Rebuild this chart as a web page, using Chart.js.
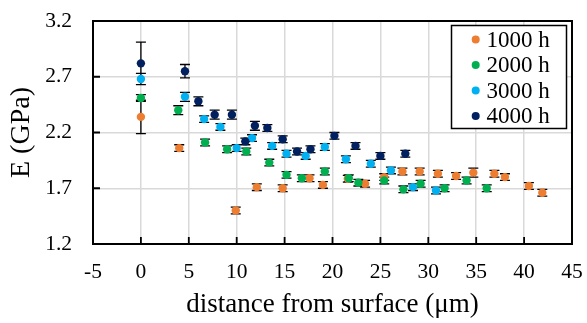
<!DOCTYPE html>
<html><head><meta charset="utf-8">
<script src="https://cdn.jsdelivr.net/npm/chart.js@4.4.1/dist/chart.umd.min.js"></script>
<style>
html,body{margin:0;padding:0;background:#fff;}
#wrap{position:relative;width:587px;height:323px;}
</style>
</head><body>
<div id="wrap"><canvas id="c" width="587" height="323"></canvas></div>
<script>
const seriesNames = ['1000 h','2000 h','3000 h','4000 h'];
const seriesColors = ['#ED7D31','#00B050','#00B0F0','#002060'];

const x1000 = [0, 4.0, 9.9, 12.1, 14.8, 17.6, 19.0, 21.6, 23.4, 25.4, 27.3, 29.1, 31.0, 32.9, 34.7, 36.9, 38.0, 40.5, 41.9];
const y1000 = [2.34, 2.06, 1.50, 1.71, 1.70, 1.79, 1.73, 1.785, 1.74, 1.80, 1.85, 1.85, 1.83, 1.81, 1.84, 1.83, 1.80, 1.72, 1.66];
const e1000 = [0.15, 0.03, 0.03, 0.03, 0.03, 0.03, 0.03, 0.03, 0.03, 0.03, 0.03, 0.03, 0.03, 0.03, 0.04, 0.03, 0.03, 0.03, 0.03];

const x2000 = [0, 3.9, 6.7, 9.0, 11.0, 13.4, 15.2, 16.8, 19.2, 21.7, 22.7, 25.4, 27.4, 29.2, 31.7, 34.0, 36.1];
const y2000 = [2.51, 2.40, 2.11, 2.05, 2.03, 1.93, 1.82, 1.79, 1.85, 1.79, 1.75, 1.77, 1.69, 1.74, 1.70, 1.77, 1.70];
const e2000 = [0.03, 0.04, 0.03, 0.03, 0.03, 0.03, 0.03, 0.03, 0.03, 0.03, 0.03, 0.03, 0.03, 0.03, 0.03, 0.03, 0.03];

const x3000 = [0, 4.6, 6.6, 8.3, 10.0, 11.6, 13.7, 15.2, 17.2, 19.2, 21.4, 24.0, 26.1, 28.4, 30.8];
const y3000 = [2.68, 2.52, 2.32, 2.25, 2.06, 2.15, 2.08, 2.01, 1.99, 2.07, 1.96, 1.92, 1.86, 1.71, 1.68];
const e3000 = [0.05, 0.04, 0.03, 0.03, 0.03, 0.03, 0.03, 0.03, 0.03, 0.03, 0.03, 0.03, 0.03, 0.03, 0.03];

const x4000 = [0, 4.6, 6.0, 7.7, 9.5, 10.9, 11.9, 13.2, 14.8, 16.3, 17.7, 20.2, 22.4, 25.0, 27.6];
const y4000 = [2.82, 2.75, 2.48, 2.36, 2.36, 2.12, 2.26, 2.24, 2.14, 2.03, 2.05, 2.17, 2.08, 1.99, 2.01];
const e4000 = [0.19, 0.06, 0.04, 0.04, 0.04, 0.03, 0.04, 0.03, 0.03, 0.03, 0.03, 0.03, 0.03, 0.03, 0.03];

const xTicks = [-5, 0, 5, 10, 15, 20, 25, 30, 35, 40, 45];
const yTicks = [1.2, 1.7, 2.2, 2.7, 3.2];

const xs = [x1000, x2000, x3000, x4000];
const ys = [y1000, y2000, y3000, y4000];
const es = [e1000, e2000, e3000, e4000];

const FONT = "'Liberation Serif', 'Times New Roman', serif";

const datasets = seriesNames.map((name, k) => ({
  label: name,
  data: xs[k].map((v, i) => ({x: v, y: ys[k][i]})),
  errors: es[k],
  backgroundColor: seriesColors[k],
  borderColor: seriesColors[k],
  borderWidth: 0,
  pointRadius: 4.2,
  pointHoverRadius: 4.2,
  order: 4 - k
}));

const errorBars = {
  id: 'errorBars',
  beforeDatasetsDraw(chart) {
    const {ctx, chartArea: a, scales: {x, y}} = chart;
    ctx.save();
    ctx.strokeStyle = '#000';
    ctx.lineWidth = 2;
    ctx.strokeRect(a.left, a.top, a.right - a.left, a.bottom - a.top);
    ctx.lineWidth = 1.8;
    ctx.beginPath();
    x.ticks.forEach(t => {
      const px = x.getPixelForValue(t.value);
      ctx.moveTo(px, a.bottom); ctx.lineTo(px, a.bottom - 7);
    });
    y.ticks.forEach(t => {
      const py = y.getPixelForValue(t.value);
      ctx.moveTo(a.left, py); ctx.lineTo(a.left + 7, py);
    });
    ctx.stroke();
    ctx.lineWidth = 1.3;
    ctx.beginPath();
    chart.data.datasets.forEach(ds => {
      ds.data.forEach((p, i) => {
        const e = ds.errors[i];
        const px = x.getPixelForValue(p.x);
        const t = y.getPixelForValue(p.y + e);
        const b = y.getPixelForValue(p.y - e);
        ctx.moveTo(px, t); ctx.lineTo(px, b);
        ctx.moveTo(px - 5, t); ctx.lineTo(px + 5, t);
        ctx.moveTo(px - 5, b); ctx.lineTo(px + 5, b);
      });
    });
    ctx.stroke();
    ctx.restore();
  }
};

const boxLegend = {
  id: 'boxLegend',
  afterDraw(chart) {
    const ctx = chart.ctx;
    const L = 451.5, T = 25.5, W = 115, H = 103, rowH = 25.5, firstY = 39.5;
    ctx.save();
    ctx.fillStyle = '#fff';
    ctx.fillRect(L, T, W, H);
    ctx.strokeStyle = '#000';
    ctx.lineWidth = 1.5;
    ctx.strokeRect(L, T, W, H);
    ctx.font = Chart.helpers.toFont({family: FONT, size: 23}).string;
    ctx.textBaseline = 'middle';
    ctx.textAlign = 'left';
    chart.data.datasets.forEach((ds, i) => {
      const cy = firstY + i * rowH;
      ctx.fillStyle = ds.backgroundColor;
      ctx.beginPath(); ctx.arc(475.7, cy, 4, 0, Math.PI * 2); ctx.fill();
      ctx.fillStyle = '#000';
      ctx.fillText(ds.label, 486.5, cy + 1);
    });
    ctx.restore();
  }
};

const chart = new Chart(document.getElementById('c'), {
  type: 'scatter',
  data: {datasets},
  plugins: [errorBars, boxLegend],
  options: {
    responsive: false,
    animation: false,
    events: [],
    layout: {padding: {left: 0, right: 15, top: 21, bottom: 0}},
    plugins: {legend: {display: false}, tooltip: {enabled: false}},
    scales: {
      x: {
        type: 'linear', min: -5, max: 45,
        afterBuildTicks: s => { s.ticks = xTicks.map(v => ({value: v})); },
        afterFit: s => { s.height = 79; s.paddingLeft = 0; s.paddingRight = 0; },
        grid: {color: '#d9d9d9', lineWidth: 1.5, drawTicks: false},
        border: {display: false},
        ticks: {color: '#000', font: {family: FONT, size: 21.5}, padding: 15, maxRotation: 0,
          callback: v => String(v)},
        title: {display: true, text: 'distance from surface (μm)', color: '#000',
          font: {family: FONT, size: 27}, padding: {top: 0, bottom: 2}}
      },
      y: {
        type: 'linear', min: 1.2, max: 3.2,
        afterBuildTicks: s => { s.ticks = yTicks.map(v => ({value: v})); },
        afterFit: s => { s.width = 93; s.paddingTop = 0; s.paddingBottom = 0; },
        grid: {color: '#d9d9d9', lineWidth: 1.5, drawTicks: false},
        border: {display: false},
        ticks: {color: '#000', font: {family: FONT, size: 21.5}, padding: 21,
          callback: v => Number(v).toFixed(1)},
        title: {display: true, text: 'E (GPa)', color: '#000',
          font: {family: FONT, size: 28}, padding: {top: 5, bottom: 0}}
      }
    }
  }
});
</script>
</body></html>
